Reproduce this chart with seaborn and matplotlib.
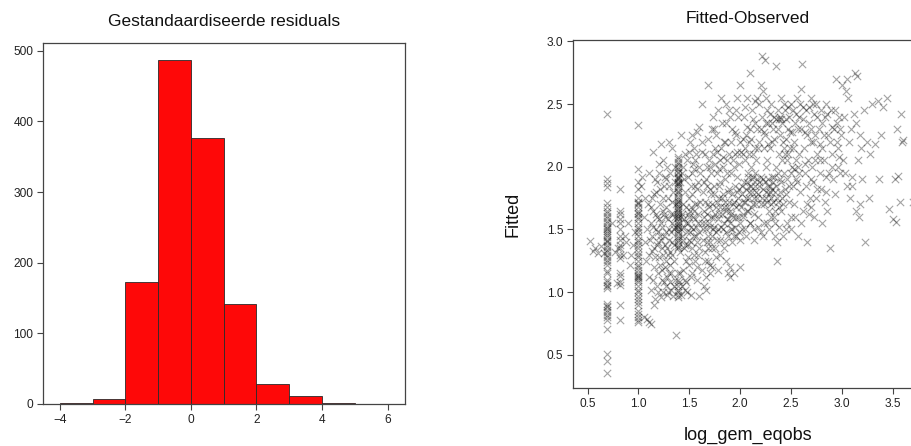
import numpy as np
import pandas as pd
import seaborn as sns
import matplotlib
matplotlib.use("Agg")
import matplotlib.pyplot as plt

# ---------------- Histogram data ----------------
bin_edges = [-4, -3, -2, -1, 0, 1, 2, 3, 4, 5]
bin_counts = [1, 7, 173, 487, 376, 142, 28, 11, 1]
hist_xticks = [-4, -2, 0, 2, 4, 6]
hist_yticks = [0, 100, 200, 300, 400, 500]

# ---------------- Scatter data (log_gem_eqobs, Fitted) ----------------
stripe_069_x = 0.69
stripe_069_y = [2.42, 1.9, 1.87, 1.84, 1.71, 1.68, 1.65, 1.63, 1.61, 1.59, 1.57, 1.55, 1.53,
                1.51, 1.5, 1.49, 1.47, 1.46, 1.44, 1.42, 1.41, 1.4, 1.38, 1.36, 1.34, 1.32,
                1.3, 1.28, 1.26, 1.24, 1.22, 1.17, 1.15, 1.1, 1.08, 1.06, 1.05, 1.03, 0.91,
                0.89, 0.88, 0.86, 0.84, 0.82, 0.8, 0.78, 0.71, 0.51, 0.45, 0.36]
stripe_082_x = 0.82
stripe_082_y = [1.82, 1.65, 1.62, 1.58, 1.55, 1.5, 1.45, 1.42, 1.38, 1.35, 1.3, 1.27,
                1.15, 1.13, 1.08, 1.06, 0.9, 0.78]
stripe_100_x = 1.0
stripe_100_y = [2.33, 1.98, 1.88, 1.82, 1.75, 1.72, 1.7, 1.68, 1.65, 1.62, 1.6, 1.58, 1.55,
                1.52, 1.5, 1.48, 1.45, 1.42, 1.4, 1.38, 1.35, 1.32, 1.3, 1.28, 1.25, 1.22,
                1.2, 1.18, 1.15, 1.13, 1.12, 1.1, 1.08, 1.05, 1.02, 1.0, 0.97, 0.95, 0.92,
                0.9, 0.85, 0.83, 0.8, 0.78, 0.76, 1.11, 1.14, 1.63, 1.71]
stripe_139_x = 1.39
stripe_139_y = [2.08, 2.06, 2.04, 2.02, 2.0, 1.98, 1.96, 1.95, 1.93, 1.92, 1.9, 1.88, 1.86,
                1.85, 1.83, 1.81, 1.8, 1.78, 1.76, 1.74, 1.72, 1.7, 1.69, 1.67, 1.65, 1.64,
                1.62, 1.6, 1.59, 1.57, 1.55, 1.54, 1.52, 1.5, 1.49, 1.47, 1.45, 1.43, 1.42,
                1.4, 1.38, 1.36, 1.35, 1.15, 1.1, 1.05, 1.02, 1.0, 0.98, 0.96, 1.91, 1.66,
                1.53, 1.61, 1.73, 1.87]

cloud_x = [0.52, 0.55, 0.57, 0.6, 0.63, 0.66, 1.37,
           0.74, 0.77, 0.8, 0.85, 0.88, 0.9, 0.92, 0.95, 0.97, 0.87, 0.93, 0.79,
           1.03, 1.05, 1.06, 1.07, 1.05, 1.08, 1.1, 1.08, 1.1, 1.09, 1.04, 1.06, 1.1, 1.12, 1.12, 1.1,
           1.12, 1.13, 1.14, 1.15, 1.15, 1.16, 1.17, 1.18, 1.18, 1.19, 1.2, 1.2, 1.14, 1.16, 1.13, 1.17, 1.19, 1.15,
           1.22, 1.21, 1.22, 1.23, 1.24, 1.25, 1.25, 1.26, 1.27, 1.28, 1.28, 1.29, 1.3, 1.3, 1.27, 1.24, 1.23, 1.26,
           1.29, 1.21, 1.3, 1.27, 1.24,
           1.31, 1.32, 1.33, 1.33, 1.34, 1.35, 1.35, 1.36, 1.36, 1.32, 1.34, 1.37, 1.31, 1.36, 1.33,
           1.42, 1.43, 1.44, 1.45, 1.45, 1.46, 1.47, 1.48, 1.48, 1.49, 1.5, 1.5, 1.51, 1.52, 1.52, 1.53,
           1.54, 1.55, 1.55, 1.56, 1.57, 1.57, 1.58, 1.58, 1.59, 1.6, 1.6, 1.6, 1.44, 1.46, 1.49, 1.53,
           1.56, 1.59, 1.47, 1.51, 1.54, 1.42, 1.41, 1.43, 1.58, 1.55, 1.52, 1.48, 1.45,
           1.62, 1.63, 1.63, 1.64, 1.65, 1.65, 1.66, 1.67, 1.68, 1.68, 1.69, 1.7, 1.7, 1.71, 1.72, 1.72,
           1.73, 1.74, 1.75, 1.75, 1.76, 1.77, 1.78, 1.78, 1.79, 1.8, 1.8, 1.64, 1.66, 1.7, 1.73, 1.76,
           1.79, 1.67, 1.62, 1.69, 1.74, 1.77, 1.8, 1.72, 1.65, 1.68,
           1.81, 1.82, 1.83, 1.84, 1.85, 1.85, 1.86, 1.87, 1.88, 1.88, 1.89, 1.9, 1.9, 1.91, 1.92, 1.93,
           1.94, 1.95, 1.95, 1.96, 1.97, 1.98, 1.99, 2.0, 2.0, 2.0, 1.83, 1.86, 1.87, 1.92, 1.94, 1.97,
           1.84, 1.89, 1.98, 1.91, 1.96, 1.99,
           2.02, 2.03, 2.04, 2.05, 2.05, 2.06, 2.07, 2.08, 2.08, 2.09, 2.1, 2.1, 2.11, 2.12, 2.13, 2.13,
           2.14, 2.15, 2.15, 2.16, 2.17, 2.18, 2.18, 2.19, 2.2, 2.2, 2.2, 2.2, 2.04, 2.06, 2.09, 2.11,
           2.14, 2.16, 2.17, 2.19, 2.12, 2.07, 2.03, 2.1,
           2.21, 2.22, 2.22, 2.23, 2.24, 2.24, 2.25, 2.26, 2.27, 2.27, 2.28, 2.29, 2.3, 2.3, 2.31, 2.32,
           2.33, 2.33, 2.34, 2.35, 2.35, 2.36, 2.36, 2.37, 2.37, 2.38, 2.38, 2.39, 2.4, 2.4, 2.25, 2.28,
           2.31, 2.34, 2.26, 2.39, 2.32, 2.29, 2.4, 2.23,
           2.41, 2.42, 2.43, 2.44, 2.45, 2.46, 2.47, 2.48, 2.5, 2.5, 2.51, 2.52, 2.53, 2.54, 2.55, 2.56,
           2.57, 2.58, 2.59, 2.6, 2.6, 2.61, 2.42, 2.45, 2.48, 2.53, 2.56, 2.58, 2.44, 2.52, 2.57, 2.6,
           2.62, 2.63, 2.64, 2.65, 2.66, 2.66, 2.67, 2.68, 2.69, 2.7, 2.7, 2.72, 2.73, 2.74, 2.75, 2.75,
           2.77, 2.78, 2.79, 2.8, 2.8, 2.68, 2.71, 2.76, 2.64, 2.73, 2.79, 2.62, 2.7,
           2.82, 2.83, 2.84, 2.86, 2.87, 2.88, 2.89, 2.9, 2.92, 2.93, 2.94, 2.95, 2.96, 2.97, 2.98, 2.99,
           3.0, 2.85, 2.91, 2.96, 2.84,
           3.01, 3.02, 3.03, 3.04, 3.05, 3.06, 3.07, 3.08, 3.09, 3.1, 3.12, 3.13, 3.14, 3.15, 3.16, 3.17,
           3.18, 3.19, 3.2, 3.05, 3.1, 3.14, 3.18,
           3.22, 3.23, 3.25, 3.27, 3.3, 3.35, 3.36, 3.38, 3.4, 3.44, 3.46, 3.5, 3.52, 3.53, 3.54, 3.55,
           3.57, 3.58, 3.59, 3.6, 3.7, 3.33, 3.28]
cloud_y = [1.41, 1.33, 1.35, 1.31, 1.37, 1.31, 0.66,
           1.55, 1.32, 1.35, 1.3, 1.4, 1.55, 1.22, 1.38, 1.48, 1.45, 1.3, 1.07,
           1.85, 1.6, 1.4, 1.25, 0.8, 0.79, 0.76, 1.5, 1.3, 1.7, 1.92, 1.75, 1.95, 0.75, 1.02, 1.12,
           1.55, 1.45, 1.65, 1.35, 1.2, 0.95, 1.8, 1.6, 1.05, 1.4, 1.95, 1.28, 2.12, 1.9, 1.75, 1.5, 1.15, 0.9,
           2.18, 1.7, 1.55, 1.35, 1.0, 1.85, 1.45, 1.6, 1.25, 2.0, 0.98, 1.75, 1.5, 1.15, 1.9, 1.65, 1.1, 1.38,
           1.3, 1.45, 2.2, 1.05, 2.05,
           1.95, 1.62, 1.4, 2.15, 1.8, 1.5, 1.25, 2.0, 1.1, 1.02, 0.97, 1.7, 1.32, 1.88, 1.55,
           2.25, 1.45, 1.7, 1.35, 1.9, 1.1, 1.55, 2.05, 1.0, 1.28, 1.75, 1.6, 2.2, 1.4, 1.12, 1.95,
           1.5, 1.65, 1.3, 1.85, 2.1, 1.45, 1.2, 1.7, 1.55, 2.0, 1.35, 0.97, 2.0, 1.8, 1.62, 1.78,
           1.58, 1.88, 1.25, 1.48, 2.02, 1.6, 1.15, 1.05, 2.28, 2.15, 1.68, 1.38, 1.52,
           2.5, 1.8, 1.5, 1.65, 1.25, 2.1, 1.9, 1.4, 2.65, 1.7, 1.55, 2.0, 1.15, 1.78, 2.3, 1.45,
           1.6, 1.85, 2.15, 1.35, 1.68, 1.95, 2.45, 1.5, 1.75, 2.05, 1.3, 1.05, 1.12, 1.22, 2.4, 2.25,
           1.62, 1.85, 2.2, 2.05, 1.52, 1.42, 1.88, 1.2, 1.55, 1.35,
           2.55, 1.75, 1.5, 2.2, 1.9, 1.4, 1.65, 2.05, 1.15, 1.8, 2.45, 1.55, 1.2, 1.95, 2.3, 1.7,
           1.45, 2.1, 1.85, 1.6, 2.55, 1.75, 1.48, 2.2, 2.65, 1.2, 2.0, 2.35, 1.58, 1.5, 2.0, 1.92,
           1.68, 1.72, 2.4, 1.62, 2.25, 1.82,
           1.85, 1.6, 2.4, 2.05, 1.5, 1.75, 2.55, 1.95, 1.65, 2.2, 2.75, 1.55, 1.85, 2.45, 2.1, 1.7,
           1.5, 1.95, 2.35, 1.8, 2.55, 1.6, 2.15, 1.88, 2.65, 2.3, 1.7, 1.48, 1.72, 2.25, 1.8, 2.0,
           1.62, 2.05, 1.75, 2.5, 1.9, 1.88, 2.1, 2.3,
           2.88, 1.9, 2.6, 1.55, 2.85, 2.25, 1.75, 2.05, 2.35, 1.85, 1.5, 2.15, 1.7, 2.5, 1.92, 2.3,
           1.6, 2.4, 1.8, 2.8, 2.0, 1.25, 1.4, 2.45, 1.72, 2.1, 2.38, 1.9, 1.65, 2.55, 2.0, 1.65,
           2.2, 1.55, 2.45, 2.25, 1.88, 1.8, 2.38, 2.15,
           1.75, 2.2, 1.95, 2.45, 1.5, 2.05, 2.3, 1.85, 2.5, 1.6, 2.0, 2.15, 1.7, 2.35, 1.9, 2.55,
           1.45, 2.1, 1.8, 2.62, 2.3, 2.82, 1.45, 1.78, 2.4, 1.98, 1.88, 2.4, 2.1, 2.45, 2.0, 1.55,
           1.65, 2.15, 1.95, 2.45, 1.4, 1.7, 2.05, 2.35, 1.75, 2.55, 1.9, 2.2, 1.6, 2.05, 2.5, 1.75,
           2.3, 1.95, 2.45, 1.55, 2.15, 1.62, 2.0, 2.1, 2.28, 2.42, 1.82, 2.48, 2.2,
           2.05, 2.4, 1.8, 2.25, 1.95, 1.35, 2.45, 2.1, 2.3, 1.78, 2.7, 2.2, 2.0, 2.4, 1.95, 2.25,
           2.65, 1.65, 1.9, 2.15, 2.5,
           2.05, 2.4, 1.95, 2.6, 1.85, 2.55, 2.2, 1.75, 2.3, 1.92, 2.42, 2.75, 1.65, 2.72, 2.05, 1.6,
           2.25, 2.15, 1.9, 2.7, 1.85, 2.35, 1.7,
           2.45, 1.4, 2.2, 1.75, 2.5, 2.52, 1.9, 2.25, 2.48, 2.55, 1.66, 1.58, 1.9, 1.56, 2.3, 1.93,
           1.72, 2.42, 2.2, 2.21, 1.72, 2.18, 2.1]

core_x = [1.11, 1.13, 1.14, 1.16, 1.17, 1.18, 1.19, 1.2, 1.21, 1.22, 1.23, 1.24, 1.25, 1.26, 1.27,
          1.28, 1.29, 1.3, 1.31, 1.32, 1.33, 1.34, 1.35, 1.36, 1.12, 1.15, 1.18, 1.21, 1.24, 1.27,
          1.3, 1.33, 1.36, 1.26, 1.2, 1.14, 1.19, 1.23, 1.28, 1.32, 1.35, 1.31, 1.25, 1.22, 1.29,
          1.41, 1.42, 1.43, 1.44, 1.45, 1.46, 1.47, 1.48, 1.49, 1.5, 1.51, 1.52, 1.53, 1.54, 1.55,
          1.56, 1.57, 1.58, 1.59, 1.6, 1.61, 1.62, 1.63, 1.64, 1.65, 1.66, 1.67, 1.68, 1.69, 1.7,
          1.41, 1.43, 1.46, 1.49, 1.52, 1.55, 1.58, 1.61, 1.64, 1.67, 1.7, 1.5, 1.56, 1.62, 1.68,
          1.6, 1.53, 1.44, 1.47, 1.5, 1.53, 1.56, 1.59, 1.62, 1.65, 1.68, 1.7, 1.46, 1.52, 1.58,
          1.66, 1.42, 1.4,
          1.71, 1.72, 1.73, 1.74, 1.75, 1.76, 1.77, 1.78, 1.79, 1.8, 1.81, 1.82, 1.83, 1.84, 1.85,
          1.86, 1.87, 1.88, 1.89, 1.9, 1.91, 1.92, 1.93, 1.94, 1.95, 1.96, 1.97, 1.98, 1.99, 2.0,
          1.71, 1.73, 1.75, 1.77, 1.79, 1.81, 1.83, 1.85, 1.87, 1.89, 1.91, 1.93, 1.95, 1.97, 1.99,
          1.74, 1.82, 1.9, 1.96, 1.86, 1.72, 1.76, 1.8, 1.84, 1.88, 1.92, 1.96, 2.0, 1.78, 1.86,
          1.94, 1.9,
          2.01, 2.02, 2.03, 2.04, 2.05, 2.06, 2.07, 2.08, 2.09, 2.1, 2.11, 2.12, 2.13, 2.14, 2.15,
          2.16, 2.17, 2.18, 2.19, 2.2, 2.21, 2.22, 2.23, 2.24, 2.25, 2.26, 2.27, 2.28, 2.29, 2.3,
          2.01, 2.03, 2.05, 2.07, 2.09, 2.11, 2.13, 2.15, 2.17, 2.19, 2.21, 2.23, 2.25, 2.27, 2.29,
          2.05, 2.15, 2.25, 2.02, 2.06, 2.1, 2.14, 2.18, 2.22, 2.26, 2.3,
          2.31, 2.32, 2.33, 2.34, 2.35, 2.36, 2.37, 2.38, 2.39, 2.4, 2.41, 2.42, 2.43, 2.44, 2.45,
          2.46, 2.47, 2.48, 2.49, 2.5, 2.31, 2.33, 2.35, 2.37, 2.39, 2.41, 2.43, 2.45, 2.47, 2.49,
          2.51, 2.53, 2.55, 2.57, 2.59, 2.55, 2.58, 2.52, 2.54, 2.5, 2.46, 2.38, 2.34,
          2.62, 2.64, 2.66, 2.68, 2.7, 2.72, 2.74, 2.76, 2.78, 2.8, 2.82, 2.85, 2.88, 2.9, 2.93,
          2.95, 2.98, 2.65, 2.72, 2.78, 2.84, 2.9, 2.97, 2.7, 2.76, 2.83]
core_y = [1.42, 1.33, 1.52, 1.28, 1.62, 1.38, 1.48, 1.58, 1.22, 1.42, 1.52, 1.3, 1.62, 1.2, 1.48,
          1.35, 1.58, 1.42, 1.22, 1.48, 1.3, 1.62, 1.38, 1.52, 1.68, 1.78, 1.88, 1.82, 1.75, 1.68,
          1.85, 1.72, 1.6, 1.92, 2.02, 1.1, 1.0, 1.18, 1.12, 1.15, 1.05, 1.08, 1.08, 0.96, 1.0,
          1.32, 1.5, 1.62, 1.42, 1.58, 1.38, 1.68, 1.48, 1.55, 1.42, 1.65, 1.52, 1.35, 1.6, 1.45,
          1.7, 1.52, 1.4, 1.62, 1.48, 1.72, 1.55, 1.42, 1.6, 1.72, 1.5, 1.62, 1.45, 1.68, 1.52,
          1.88, 1.95, 2.1, 1.92, 1.85, 1.98, 1.82, 1.95, 1.88, 2.0, 1.82, 2.12, 2.05, 2.12, 2.22,
          2.32, 2.25, 1.18, 1.08, 1.22, 1.15, 1.25, 1.3, 1.18, 1.32, 1.25, 1.4, 1.02, 0.98, 1.1,
          1.02, 0.98, 1.08,
          1.6, 1.7, 1.5, 1.78, 1.62, 1.48, 1.72, 1.58, 1.85, 1.68, 1.52, 1.62, 1.78, 1.55, 1.72,
          1.48, 1.68, 1.58, 1.82, 1.65, 1.5, 1.78, 1.6, 1.72, 1.52, 1.68, 1.8, 1.6, 1.7, 1.55,
          1.95, 2.1, 2.02, 2.12, 1.98, 2.15, 2.08, 2.2, 1.95, 2.1, 2.2, 2.05, 2.28, 2.12, 2.02,
          2.3, 2.35, 2.4, 2.45, 2.5, 1.35, 1.28, 1.42, 1.35, 1.45, 1.4, 1.45, 1.42, 1.18, 1.25,
          1.15, 1.12,
          1.68, 1.78, 1.62, 1.88, 1.72, 1.82, 1.65, 1.92, 1.75, 1.85, 1.68, 1.8, 1.92, 1.75, 1.85,
          1.7, 1.9, 1.78, 1.85, 1.92, 1.75, 1.82, 1.7, 1.88, 1.8, 1.72, 1.9, 1.78, 1.85, 1.75,
          2.12, 2.22, 2.15, 2.32, 2.1, 2.22, 2.38, 2.15, 2.3, 2.2, 2.4, 2.28, 2.35, 2.18, 2.42,
          2.48, 2.52, 2.55, 1.5, 1.45, 1.55, 1.42, 1.52, 1.45, 1.55, 1.6,
          1.82, 1.72, 1.92, 1.65, 1.85, 1.75, 1.95, 1.68, 1.8, 1.88, 2.05, 1.7, 2.15, 1.82, 2.22,
          1.9, 2.1, 1.72, 2.28, 1.95, 2.35, 2.22, 2.38, 2.3, 2.4, 2.35, 2.5, 2.38, 2.48, 2.15,
          2.28, 2.2, 2.42, 2.3, 2.5, 2.05, 1.95, 1.85, 1.6, 1.5, 1.55, 1.52, 1.45,
          2.38, 2.02, 2.25, 2.48, 2.3, 2.5, 2.25, 2.4, 2.18, 2.35, 2.25, 2.42, 2.2, 2.32, 2.45,
          2.35, 2.3, 1.85, 1.88, 2.05, 1.92, 2.0, 2.08, 1.68, 1.82, 1.72]

scatter_xticks = [0.5, 1.0, 1.5, 2.0, 2.5, 3.0, 3.5]
scatter_yticks = [0.5, 1.0, 1.5, 2.0, 2.5, 3.0]

xs = ([stripe_069_x] * len(stripe_069_y) + [stripe_082_x] * len(stripe_082_y)
      + [stripe_100_x] * len(stripe_100_y) + [stripe_139_x] * len(stripe_139_y)
      + cloud_x + core_x)
ys = stripe_069_y + stripe_082_y + stripe_100_y + stripe_139_y + cloud_y + core_y
scatter_df = pd.DataFrame({"log_gem_eqobs": xs, "Fitted": ys})

# ---------------- Plot ----------------
sns.set_theme(style="ticks")
plt.rcParams["font.family"] = ["Liberation Sans", "DejaVu Sans"]
plt.rcParams["axes.linewidth"] = 0.9

W, H = 912, 446
fig = plt.figure(figsize=(W / 100, H / 100), dpi=100)

def px_axes(l, t, r, b):
    return fig.add_axes([l / W, 1 - b / H, (r - l) / W, (b - t) / H])

ax1 = px_axes(43, 43, 405, 404)
ax2 = px_axes(573, 40, 923, 388)

centers = [(a + b) / 2 for a, b in zip(bin_edges[:-1], bin_edges[1:])]
sns.histplot(x=centers, weights=bin_counts, bins=bin_edges, ax=ax1,
             color="#FE0808", alpha=1.0, edgecolor="#2a2a2a", linewidth=0.6)
ax1.set_xlim(-4.51, 6.53)
ax1.set_ylim(0, 511)
ax1.set_xticks(hist_xticks)
ax1.set_yticks(hist_yticks)
ax1.set_xlabel("")
ax1.set_ylabel("")
ax1.set_title("Gestandaardiseerde residuals", fontsize=12.5, pad=12, color="#111111")

sns.scatterplot(data=scatter_df, x="log_gem_eqobs", y="Fitted", ax=ax2,
                marker="x", color="black", alpha=0.36, s=28, linewidth=0.8)
ax2.set_xlim(0.357, 3.797)
ax2.set_ylim(0.237, 3.01)
ax2.set_xticks(scatter_xticks)
ax2.set_yticks(scatter_yticks)
ax2.set_xticklabels([f"{v:.1f}" for v in scatter_xticks])
ax2.set_yticklabels([f"{v:.1f}" for v in scatter_yticks])
ax2.set_xlabel("log_gem_eqobs", fontsize=13, labelpad=12, color="#111111")
ax2.set_ylabel("Fitted", fontsize=13, labelpad=18, color="#111111")
ax2.set_title("Fitted-Observed", fontsize=12.5, pad=12, color="#111111")

for ax in (ax1, ax2):
    for sp in ax.spines.values():
        sp.set_visible(True)
        sp.set_color("#444444")
        sp.set_linewidth(0.9)
    ax.tick_params(direction="out", length=4, width=0.8, labelsize=8.6,
                   colors="#444444", labelcolor="#222222", pad=3)

fig.savefig("out.png", dpi=100)
